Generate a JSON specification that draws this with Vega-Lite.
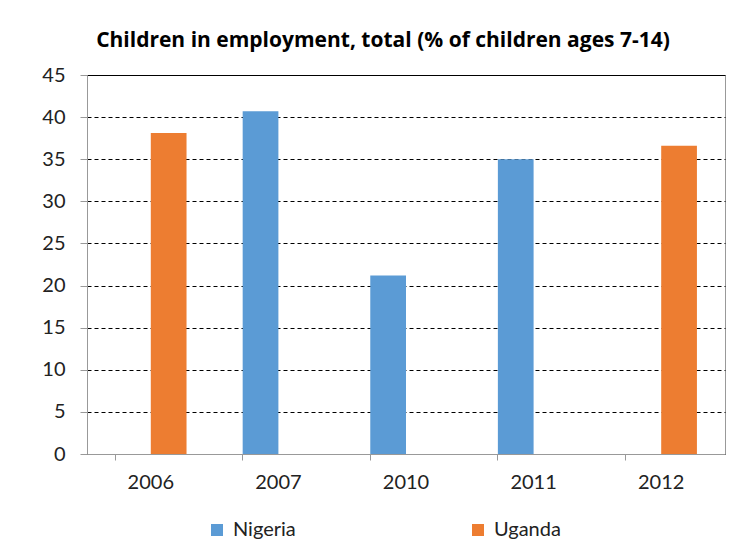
{
  "$schema": "https://vega.github.io/schema/vega-lite/v6.json",
  "autosize": {"type": "none"},
  "width": 638,
  "height": 379,
  "padding": {"left": 87, "top": 75, "right": 19, "bottom": 104},
  "background": "white",
  "title": {
    "text": "Children in employment, total (% of children ages 7-14)",
    "font": "Open Sans",
    "fontSize": 21,
    "fontWeight": "bold",
    "color": "#000000",
    "anchor": "middle",
    "dx": -23,
    "offset": 14
  },
  "data": {
    "values": [
      {"year": "2006", "country": "Uganda", "value": 38.1},
      {"year": "2007", "country": "Nigeria", "value": 40.7},
      {"year": "2010", "country": "Nigeria", "value": 21.2},
      {"year": "2011", "country": "Nigeria", "value": 35.0},
      {"year": "2012", "country": "Uganda", "value": 36.6}
    ]
  },
  "mark": {"type": "bar"},
  "encoding": {
    "x": {
      "field": "year",
      "type": "nominal",
      "sort": ["2006", "2007", "2010", "2011", "2012"],
      "scale": {"paddingInner": 0.44, "paddingOuter": 0.22},
      "axis": {
        "title": null,
        "labelAngle": 0,
        "labelFont": "Lato",
        "labelFontSize": 20,
        "labelColor": "#222222",
        "labelPadding": 12,
        "domainColor": "#999999",
        "tickColor": "#999999",
        "tickSize": 6,
        "bandPosition": 0,
        "grid": false
      }
    },
    "xOffset": {
      "field": "country",
      "type": "nominal",
      "sort": ["Nigeria", "Uganda"],
      "scale": {"paddingInner": 0, "paddingOuter": 0}
    },
    "y": {
      "field": "value",
      "type": "quantitative",
      "scale": {"domain": [0, 45]},
      "axis": {
        "title": null,
        "values": [0, 5, 10, 15, 20, 25, 30, 35, 40, 45],
        "labelFont": "Lato",
        "labelFontSize": 20,
        "labelColor": "#222222",
        "labelPadding": 15,
        "domainColor": "#999999",
        "tickColor": "#999999",
        "tickSize": 7,
        "grid": true,
        "gridColor": "#000000",
        "gridOpacity": 1,
        "gridWidth": 1,
        "gridDash": {"condition": {"test": "datum.value == 45 || datum.value == 0", "value": []}, "value": [4, 3]}
      }
    },
    "color": {
      "field": "country",
      "type": "nominal",
      "sort": ["Nigeria", "Uganda"],
      "scale": {"domain": ["Nigeria", "Uganda"], "range": ["#5B9BD5", "#ED7D31"]},
      "legend": {
        "title": null,
        "orient": "none",
        "legendX": 120,
        "legendY": 445,
        "direction": "horizontal",
        "columns": 2,
        "columnPadding": 172,
        "symbolType": "square",
        "symbolSize": 144,
        "symbolStrokeWidth": 0,
        "labelFont": "Lato",
        "labelFontSize": 20,
        "labelColor": "#222222",
        "labelOffset": 6
      }
    }
  },
  "config": {
    "view": {"stroke": "#999999", "strokeWidth": 1}
  }
}
